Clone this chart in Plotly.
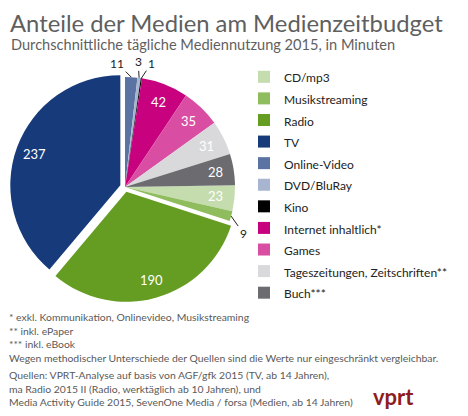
import math
import plotly.graph_objects as go

labels = ['CD/mp3', 'Musikstreaming', 'Radio', 'TV', 'Online-Video', 'DVD/BluRay', 'Kino',
          'Internet inhaltlich*', 'Games', 'Tageszeitungen, Zeitschriften**', 'Buch***']
minutes = [23, 9, 190, 237, 11, 3, 1, 42, 35, 31, 28]
colors = ['#c5dcae', '#8fbd5e', '#659c22', '#173b7a', '#5a73a2', '#a8b5d1', '#000000',
          '#c8027f', '#d94ea3', '#d9d9dc', '#6c6c70']
pulls = [0, 0, 0.045, 0.045, 0, 0, 0, 0, 0, 0, 0]

footnotes = ['* exkl. Kommunikation, Onlinevideo, Musikstreaming',
             '** inkl. ePaper',
             '*** inkl. eBook',
             'Wegen methodischer Unterschiede der Quellen sind die Werte nur eingeschränkt vergleichbar.']
sources = ['Quellen: VPRT-Analyse auf basis von AGF/gfk 2015 (TV, ab 14 Jahren),',
           'ma Radio 2015 II (Radio, werktäglich ab 10 Jahren), und',
           'Media Activity Guide 2015, SevenOne Media / forsa (Medien, ab 14 Jahren)']

# the page has an 8px body margin, so the figure is drawn a bit smaller
OFF = 8
W, H = 468 - OFF, 416 - OFF
FONT = 'Lato'
GREY = '#5f5f5f'


def px(x):
    return (x - OFF) / W


def py(y):
    return 1 - (y - OFF) / H


dom_x = [px(10), px(240)]
dom_y = [py(302), py(72)]

total = sum(minutes)
# start angle so that Online-Video begins at 12 o'clock
rotation = 360 - sum(minutes[:4]) / total * 360

# legend text is drawn smaller than the legend font to get the wider row spacing
legend_names = ['<span style="font-size:12px">%s</span>' % l for l in labels]

fig = go.Figure(go.Pie(
    labels=legend_names, values=minutes, sort=False, direction='clockwise', rotation=rotation,
    marker=dict(colors=colors, line=dict(color='white', width=0)),
    pull=pulls,
    textinfo='none',
    domain=dict(x=dom_x, y=dom_y),
    hoverinfo='label+value',
))

# value labels: inside near the rim like Excel, leader lines for the thin slices
cx = (dom_x[0] + dom_x[1]) / 2 * W
cy = (1 - (dom_y[0] + dom_y[1]) / 2) * H
r = min((dom_x[1] - dom_x[0]) * W, (dom_y[1] - dom_y[0]) * H) / 2 / (1 + max(pulls))
offsets = {'Online-Video': (-14, -14), 'DVD/BluRay': (-1, -16), 'Kino': (10, -15),
           'Musikstreaming': (12, 17)}
cum = 0
for lab, m, pl in zip(labels, minutes, pulls):
    mid = math.radians(rotation + (cum + m / 2) / total * 360)
    cum += m
    if lab in offsets:
        sx = cx + r * math.sin(mid)
        sy = cy - r * math.cos(mid)
        ax, ay = offsets[lab]
        fig.add_annotation(text=str(m), x=sx / W, y=1 - sy / H, xref='paper', yref='paper',
                           showarrow=True, arrowhead=0, arrowwidth=1, arrowcolor='#222222',
                           ax=ax, ay=ay, standoff=0, startstandoff=0,
                           font=dict(size=12, color='#222222', family=FONT))
    else:
        d = r * (0.83 + pl)
        sx = cx + d * math.sin(mid)
        sy = cy - d * math.cos(mid)
        fig.add_annotation(text=str(m), x=sx / W, y=1 - sy / H, xref='paper', yref='paper',
                           showarrow=False, xanchor='center', yanchor='middle',
                           font=dict(size=13, color='white', family=FONT))

fig.add_annotation(text='Anteile der Medien am Medienzeitbudget', x=px(9), y=py(8),
                   xref='paper', yref='paper', xanchor='left', yanchor='top', showarrow=False,
                   borderpad=0, font=dict(size=23.8, color=GREY, family=FONT))
fig.add_annotation(text='Durchschnittliche tägliche Mediennutzung 2015, in Minuten', x=px(9), y=py(34),
                   xref='paper', yref='paper', xanchor='left', yanchor='top', showarrow=False,
                   font=dict(size=14.6, color=GREY, family=FONT))
fig.add_annotation(text='<br>'.join(footnotes), x=px(7), y=py(309), xref='paper', yref='paper',
                   xanchor='left', yanchor='top', showarrow=False, align='left',
                   font=dict(size=10.4, color='#595959', family=FONT))
fig.add_annotation(text='<br>'.join(sources), x=px(7), y=py(367), xref='paper', yref='paper',
                   xanchor='left', yanchor='top', showarrow=False, align='left',
                   font=dict(size=10.4, color='#595959', family=FONT))
fig.add_annotation(text='<b>vprt</b>', x=px(393), y=py(396), xref='paper', yref='paper',
                   xanchor='center', yanchor='middle', showarrow=False,
                   font=dict(size=22, color='#8f1d1d', family=FONT))

fig.update_layout(
    width=W, height=H,
    margin=dict(l=0, r=0, t=0, b=0),
    paper_bgcolor='white',
    showlegend=True,
    legend=dict(x=px(244), y=py(61), xanchor='left', yanchor='top',
                font=dict(size=14.3, color='#222222', family=FONT),
                itemwidth=30, traceorder='normal'),
)

fig.write_html("out.html")
